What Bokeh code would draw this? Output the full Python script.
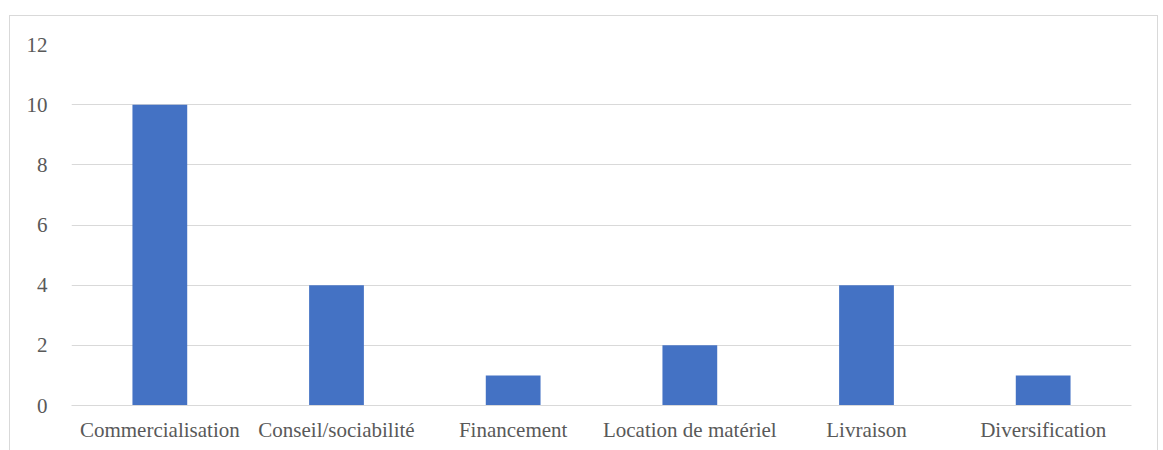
from bokeh.plotting import figure
from bokeh.models import Range1d, FactorRange, SingleIntervalTicker
from bokeh.embed import file_html
from bokeh.resources import INLINE

categories = ["Commercialisation", "Conseil/sociabilité", "Financement",
              "Location de matériel", "Livraison", "Diversification"]
values = [10, 4, 1, 2, 4, 1]

FONT = "Liberation Serif"
TXT = "#595959"
GRID = "#d9d9d9"

p = figure(x_range=FactorRange(*categories, range_padding=0), y_range=Range1d(0, 12),
           width=1149, height=436, output_backend="svg", toolbar_location=None,
           min_border_left=61, min_border_right=28, min_border_top=28, min_border_bottom=47,
           styles={"border": "1px solid #d9d9d9", "box-sizing": "border-box"},
           margin=(15, 0, 0, 9))

p.vbar(x=categories, top=values, width=0.31, fill_color="#4472C4", line_color=None)

p.outline_line_color = None
p.background_fill_color = "white"
p.border_fill_color = "white"

p.xgrid.grid_line_color = None
p.ygrid.grid_line_color = GRID
p.ygrid.grid_line_width = 1
p.yaxis.ticker = SingleIntervalTicker(interval=2)

for ax in (p.xaxis[0], p.yaxis[0]):
    ax.major_tick_line_color = None
    ax.minor_tick_line_color = None
    ax.major_tick_out = 0
    ax.major_tick_in = 0
    ax.major_label_text_font = FONT
    ax.major_label_text_font_size = "21px"
    ax.major_label_text_color = TXT

p.xaxis.axis_line_color = GRID
p.xaxis.major_label_standoff = 12
p.yaxis.axis_line_color = None
p.yaxis.major_label_standoff = 20

open("out.html", "w").write(file_html(p, INLINE))
